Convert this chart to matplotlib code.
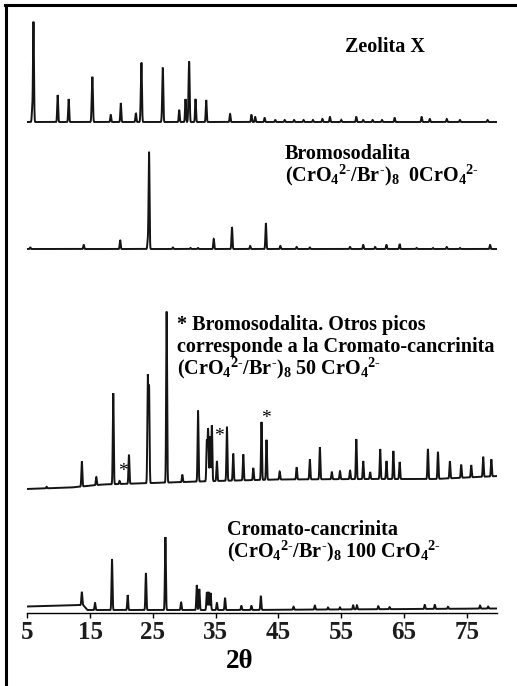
import numpy as np
import matplotlib
matplotlib.use("Agg")
import matplotlib.pyplot as plt
from matplotlib.lines import Line2D

plt.rcParams['font.family'] = ['Liberation Serif', 'DejaVu Serif']
plt.rcParams['mathtext.fontset'] = 'custom'
plt.rcParams['mathtext.rm'] = 'Liberation Serif:bold'
plt.rcParams['mathtext.it'] = 'Liberation Serif:bold'
plt.rcParams['mathtext.bf'] = 'Liberation Serif:bold'
plt.rcParams['mathtext.default'] = 'rm'

# ---------------- data (2theta positions, intensities in arbitrary px units) -------------
x_ticks = [5, 15, 25, 35, 45, 55, 65, 75]
x_label = "2θ"

# Zeolita X
zx_pos = [5.8, 6.0, 9.85, 11.6, 15.3, 15.4, 18.3, 19.9, 22.3, 23.1, 23.2, 26.5, 26.6, 29.2,
          30.2, 30.7, 30.8, 31.8, 33.5, 37.3, 40.7, 41.3, 42.8, 44.5, 46.0, 47.5, 49.0,
          50.5, 52.0, 53.2, 55.0, 57.4, 58.5, 60.0, 61.5, 63.5, 67.8, 69.1, 71.8, 73.9, 78.3]
zx_int = [12, 100, 27, 23, 20, 35, 7, 19, 9, 18, 51, 12, 49, 12,
          23, 20, 51, 23, 22, 8, 7, 5, 4, 2, 2, 2, 2,
          2, 3, 5, 2, 5, 2, 2, 2, 4, 5, 3, 3, 2, 2]
zx_bg_x = [4.9, 80.0]
zx_bg_y = [491, 491]

# Bromosodalita 0 CrO4
bs_pos = [5.5, 14.0, 19.8, 24.2, 24.4, 28.2, 31.0, 32.2, 34.7, 37.6, 40.5, 43.0, 45.3, 47.9,
          50.0, 56.4, 58.5, 60.4, 62.2, 64.3, 67.0, 69.6, 71.8, 73.9, 78.7]
bs_int = [1.5, 4, 9, 8, 97, 1.5, 1, 1, 10, 22, 3, 26, 3, 2,
          1.5, 2, 4, 2, 4, 5, 1, 1, 2, 1, 4]
bs_bg_x = [4.9, 80.0]
bs_bg_y = [364, 364]

# Mezcla 50 CrO4
mx_pos = [8.1, 13.7, 16.0, 18.7, 19.7, 21.2, 24.2, 24.4, 27.2, 29.7, 32.2, 33.6, 33.8, 34.1,
          34.4, 35.2, 36.8, 37.8, 39.4, 41.0, 42.3, 43.1, 45.2, 47.9, 50.0, 51.6, 53.5,
          54.8, 56.4, 57.4, 58.5, 59.6, 61.2, 62.2, 63.3, 64.3, 68.8, 70.4, 72.3, 74.1,
          75.7, 77.6, 78.9]
mx_int = [1.5, 25, 8, 91, 3, 29, 106, 95, 171, 7, 71, 40, 52, 45,
          56, 20, 54, 27, 26, 12, 58, 40, 8, 12, 20, 32, 7,
          8, 9, 40, 18, 7, 30, 18, 28, 17, 30, 27, 17, 13,
          12, 20, 17]
mx_bg_x = [4.9, 12.0, 17.0, 25.0, 35.0, 45.0, 60.0, 70.0, 80.0]
mx_bg_y = [124, 125.5, 128.5, 130, 132, 133.5, 134, 134, 137]

# Cromato-cancrinita 100 CrO4
cc_pos = [13.7, 15.8, 18.5, 21.0, 23.9, 27.0, 29.5, 32.0, 32.4, 33.6, 33.9, 34.2, 35.2, 36.5,
          39.1, 40.7, 42.2, 47.4, 50.8, 52.9, 54.8, 56.9, 57.5, 60.9, 62.7, 68.3, 69.9,
          72.0, 77.1, 78.4]
cc_int = [13, 7, 51, 15, 37, 73, 8, 25, 21, 18, 18, 17, 7, 12,
          4, 4, 14, 3, 4, 2, 2, 4, 4, 3, 2, 4, 4,
          2, 3, 2]
cc_bg_x = [4.9, 13.9, 14.6, 40.0, 80.0]
cc_bg_y = [6.5, 8, 3, 3, 4.5]

star_x = [20.3, 35.5, 43.0]
star_y = [141.3, 176.3, 194.7]

# ---------------- figure ----------------
W, H = 517, 686
fig = plt.figure(figsize=(W / 100, H / 100), dpi=100)
ax = fig.add_axes([26.7 / W, 73 / H, (497 - 26.7) / W, (681 - 73) / H])
ax.set_xlim(4.92, 79.8)
ax.set_ylim(0, 608)

grid = np.arange(4.92, 79.81, 0.01)
sig = 0.075


def trace(pos, inten, bgx, bgy):
    y = np.interp(grid, bgx, bgy)
    for p, h in zip(pos, inten):
        y = y + h * np.exp(-(grid - p) ** 2 / (2 * sig ** 2))
    return y


col = '#141414'
for pos, inten, bgx, bgy in [(zx_pos, zx_int, zx_bg_x, zx_bg_y),
                             (bs_pos, bs_int, bs_bg_x, bs_bg_y),
                             (mx_pos, mx_int, mx_bg_x, mx_bg_y),
                             (cc_pos, cc_int, cc_bg_x, cc_bg_y)]:
    ax.plot(grid, trace(pos, inten, bgx, bgy), color=col, lw=1.4, solid_joinstyle='miter')

for sx, sy in zip(star_x, star_y):
    ax.text(sx, sy, "*", ha='center', va='center', fontsize=14, color='black')

for s in ['left', 'right', 'top']:
    ax.spines[s].set_visible(False)
ax.spines['bottom'].set_linewidth(1.0)
ax.set_yticks([])
ax.set_xticks(x_ticks)
ax.set_xticklabels([str(t) for t in x_ticks], fontsize=18, fontweight='bold', color='#1c1c1c')
ax.tick_params(axis='x', direction='out', length=3.5, width=1, pad=2.5)


def ftext(x, y, s, **kw):
    fig.text(x / W, 1 - y / H, s, **kw)


sup = r"$^{2\text{-}}$"
minus = r"$^{\text{-}}$"
formula = "(CrO$_4$" + sup + "/Br" + minus + ")$_8$"

bold = dict(fontsize=14.5, fontweight='bold', color='black', va='baseline')
ftext(385, 52, "Zeolita X", ha='center', **bold)
ftext(285, 159, "Bromosodalita", ha='left', **bold)
ftext(285, 181, formula + "  0CrO$_4$" + sup, ha='left', **bold)
ftext(177, 330, "* Bromosodalita. Otros picos", ha='left', **bold)
ftext(177, 352, "corresponde a la Cromato-cancrinita", ha='left', **bold)
ftext(177, 374, formula + " 50 CrO$_4$" + sup, ha='left', **bold)
ftext(227, 535, "Cromato-cancrinita", ha='left', **bold)
ftext(227, 557, formula + " 100 CrO$_4$" + sup, ha='left', **bold)
ftext(240, 668, x_label, ha='center', va='baseline', fontsize=19.5, fontweight='bold', color='black')

# frame lines
fig.add_artist(Line2D([5 / W, 1.0], [1 - 5 / H, 1 - 5 / H], transform=fig.transFigure,
                      color='black', lw=2.2))
fig.add_artist(Line2D([6 / W, 6 / W], [0, 1 - 5 / H], transform=fig.transFigure,
                      color='black', lw=2.2))

fig.savefig("out.png", dpi=100)
